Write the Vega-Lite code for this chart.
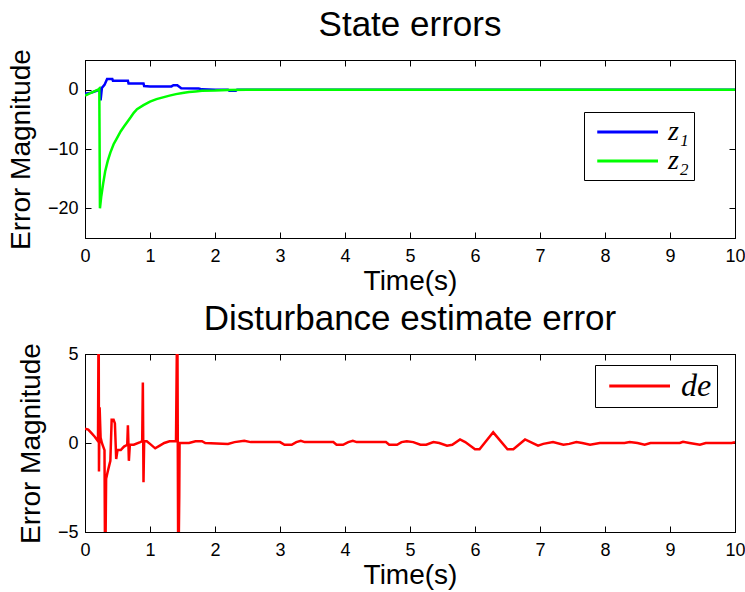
{
  "$schema": "https://vega.github.io/schema/vega-lite/v6.json",
  "background": "white",
  "padding": {"left": 6, "top": 7, "right": 0, "bottom": 0},
  "bounds": "flush",
  "spacing": 116,
  "config": {
    "view": {"stroke": "black", "strokeWidth": 1},
    "axis": {
      "grid": false,
      "domainColor": "black",
      "tickColor": "black",
      "labelColor": "black",
      "titleColor": "black",
      "labelFont": "Liberation Sans",
      "titleFont": "Liberation Sans",
      "labelFontSize": 18,
      "titleFontSize": 28,
      "titleFontWeight": "normal",
      "tickSize": -6,
      "labelFlush": false,
      "labelOverlap": false
    },
    "axisX": {"labelPadding": 15, "titlePadding": 2},
    "axisY": {"labelPadding": 13, "titlePadding": 12},
    "title": {"font": "Liberation Sans", "fontSize": 35, "fontWeight": "normal", "color": "black", "anchor": "middle"},
    "legend": {
      "orient": "none",
      "strokeColor": "black",
      "fillColor": "white",
      "padding": 5,
      "symbolType": "M-0.5,0L4,0",
      "symbolSize": 729,
      "symbolStrokeWidth": 3,
      "labelFont": "Liberation Serif",
      "labelFontStyle": "italic",
      "labelFontSize": 28,
      "labelColor": "black",
      "labelOffset": 49,
      "rowPadding": 0,
      "title": null
    }
  },
  "datasets": {
    "states": [
      {"series": "z₁", "t": 0, "v": -0.7},
      {"series": "z₁", "t": 0.1, "v": -0.5},
      {"series": "z₁", "t": 0.2, "v": -0.1},
      {"series": "z₁", "t": 0.23, "v": 0.1},
      {"series": "z₁", "t": 0.24, "v": -1.8},
      {"series": "z₁", "t": 0.26, "v": 0.3},
      {"series": "z₁", "t": 0.3, "v": 0.8},
      {"series": "z₁", "t": 0.34, "v": 1.8},
      {"series": "z₁", "t": 0.42, "v": 1.8},
      {"series": "z₁", "t": 0.43, "v": 1.5},
      {"series": "z₁", "t": 0.66, "v": 1.5},
      {"series": "z₁", "t": 0.67, "v": 1.05},
      {"series": "z₁", "t": 0.9, "v": 1.05},
      {"series": "z₁", "t": 0.91, "v": 0.6},
      {"series": "z₁", "t": 1.0, "v": 0.55},
      {"series": "z₁", "t": 1.33, "v": 0.55},
      {"series": "z₁", "t": 1.36, "v": 0.75},
      {"series": "z₁", "t": 1.42, "v": 0.75},
      {"series": "z₁", "t": 1.48, "v": 0.25},
      {"series": "z₁", "t": 1.75, "v": 0.2},
      {"series": "z₁", "t": 1.8, "v": 0.05},
      {"series": "z₁", "t": 2.0, "v": 0.0},
      {"series": "z₁", "t": 2.2, "v": 0.0},
      {"series": "z₁", "t": 2.22, "v": -0.2},
      {"series": "z₁", "t": 2.32, "v": -0.2},
      {"series": "z₁", "t": 2.34, "v": 0.0},
      {"series": "z₁", "t": 10, "v": 0.0},
      {"series": "z₂", "t": 0, "v": -1.0},
      {"series": "z₂", "t": 0.1, "v": -0.5},
      {"series": "z₂", "t": 0.2, "v": 0.0},
      {"series": "z₂", "t": 0.22, "v": 0.2},
      {"series": "z₂", "t": 0.23, "v": -20},
      {"series": "z₂", "t": 0.25, "v": -18},
      {"series": "z₂", "t": 0.28, "v": -15.8},
      {"series": "z₂", "t": 0.31, "v": -13.8},
      {"series": "z₂", "t": 0.35, "v": -12},
      {"series": "z₂", "t": 0.39, "v": -10.6},
      {"series": "z₂", "t": 0.44, "v": -9.2},
      {"series": "z₂", "t": 0.49, "v": -8.2},
      {"series": "z₂", "t": 0.55, "v": -7.0},
      {"series": "z₂", "t": 0.6, "v": -6.2},
      {"series": "z₂", "t": 0.7, "v": -4.7},
      {"series": "z₂", "t": 0.75, "v": -3.9},
      {"series": "z₂", "t": 0.8, "v": -3.3},
      {"series": "z₂", "t": 0.9, "v": -2.6},
      {"series": "z₂", "t": 1.0, "v": -2.0},
      {"series": "z₂", "t": 1.1, "v": -1.6},
      {"series": "z₂", "t": 1.2, "v": -1.3},
      {"series": "z₂", "t": 1.3, "v": -1.0},
      {"series": "z₂", "t": 1.4, "v": -0.75},
      {"series": "z₂", "t": 1.5, "v": -0.55},
      {"series": "z₂", "t": 1.6, "v": -0.4},
      {"series": "z₂", "t": 1.7, "v": -0.3},
      {"series": "z₂", "t": 1.8, "v": -0.2},
      {"series": "z₂", "t": 2.0, "v": -0.15},
      {"series": "z₂", "t": 2.2, "v": -0.05},
      {"series": "z₂", "t": 2.5, "v": 0.0},
      {"series": "z₂", "t": 10, "v": 0.0}
    ],
    "dist": [
      {"series": "de", "t": 0, "v": 0.8},
      {"series": "de", "t": 0.05, "v": 0.75},
      {"series": "de", "t": 0.1, "v": 0.55},
      {"series": "de", "t": 0.15, "v": 0.35},
      {"series": "de", "t": 0.2, "v": 0.1},
      {"series": "de", "t": 0.21, "v": 8},
      {"series": "de", "t": 0.215, "v": -1.6},
      {"series": "de", "t": 0.225, "v": 2.0},
      {"series": "de", "t": 0.24, "v": 0.3},
      {"series": "de", "t": 0.26, "v": 0.0},
      {"series": "de", "t": 0.28, "v": -0.2},
      {"series": "de", "t": 0.3, "v": -0.4},
      {"series": "de", "t": 0.31, "v": -8},
      {"series": "de", "t": 0.325, "v": -2.0},
      {"series": "de", "t": 0.35, "v": -1.6},
      {"series": "de", "t": 0.37, "v": -1.3},
      {"series": "de", "t": 0.39, "v": -1.0},
      {"series": "de", "t": 0.41, "v": 1.3},
      {"series": "de", "t": 0.44, "v": 1.3},
      {"series": "de", "t": 0.46, "v": 1.1},
      {"series": "de", "t": 0.48, "v": -0.9},
      {"series": "de", "t": 0.5, "v": -0.4},
      {"series": "de", "t": 0.55, "v": -0.4},
      {"series": "de", "t": 0.6, "v": -0.2},
      {"series": "de", "t": 0.65, "v": -0.1},
      {"series": "de", "t": 0.66, "v": 1.0},
      {"series": "de", "t": 0.675, "v": -1.0},
      {"series": "de", "t": 0.69, "v": -0.1},
      {"series": "de", "t": 0.75, "v": -0.1},
      {"series": "de", "t": 0.85, "v": 0.05},
      {"series": "de", "t": 0.88, "v": 0.1},
      {"series": "de", "t": 0.89, "v": 3.4},
      {"series": "de", "t": 0.9, "v": -2.2},
      {"series": "de", "t": 0.91, "v": 0.1},
      {"series": "de", "t": 0.95, "v": 0.1},
      {"series": "de", "t": 1.0, "v": -0.05},
      {"series": "de", "t": 1.08, "v": -0.3},
      {"series": "de", "t": 1.15, "v": -0.15},
      {"series": "de", "t": 1.22, "v": 0.0},
      {"series": "de", "t": 1.3, "v": 0.1},
      {"series": "de", "t": 1.4, "v": 0.1},
      {"series": "de", "t": 1.42, "v": 8},
      {"series": "de", "t": 1.435, "v": -8},
      {"series": "de", "t": 1.45, "v": -3.0},
      {"series": "de", "t": 1.455, "v": 0.0},
      {"series": "de", "t": 1.6, "v": 0.0},
      {"series": "de", "t": 1.7, "v": 0.1},
      {"series": "de", "t": 1.8, "v": 0.1},
      {"series": "de", "t": 1.85, "v": 0.0},
      {"series": "de", "t": 2.2, "v": -0.05},
      {"series": "de", "t": 2.3, "v": 0.05},
      {"series": "de", "t": 2.45, "v": 0.12},
      {"series": "de", "t": 2.55, "v": 0.05},
      {"series": "de", "t": 3.0, "v": 0.05},
      {"series": "de", "t": 3.07, "v": -0.1},
      {"series": "de", "t": 3.18, "v": -0.1},
      {"series": "de", "t": 3.25, "v": 0.05},
      {"series": "de", "t": 3.32, "v": 0.12},
      {"series": "de", "t": 3.38, "v": 0.05},
      {"series": "de", "t": 3.82, "v": 0.05},
      {"series": "de", "t": 3.87, "v": -0.1},
      {"series": "de", "t": 3.97, "v": -0.1},
      {"series": "de", "t": 4.05, "v": 0.05},
      {"series": "de", "t": 4.12, "v": 0.12},
      {"series": "de", "t": 4.18, "v": 0.05},
      {"series": "de", "t": 4.63, "v": 0.05},
      {"series": "de", "t": 4.68, "v": -0.1},
      {"series": "de", "t": 4.8, "v": -0.1},
      {"series": "de", "t": 4.87, "v": 0.05},
      {"series": "de", "t": 4.95, "v": 0.1},
      {"series": "de", "t": 5.05, "v": 0.05},
      {"series": "de", "t": 5.16, "v": -0.1},
      {"series": "de", "t": 5.25, "v": -0.1},
      {"series": "de", "t": 5.36, "v": 0.05},
      {"series": "de", "t": 5.45, "v": 0.0},
      {"series": "de", "t": 5.57, "v": -0.15},
      {"series": "de", "t": 5.65, "v": -0.1},
      {"series": "de", "t": 5.77, "v": 0.2},
      {"series": "de", "t": 5.85, "v": 0.05},
      {"series": "de", "t": 6.0, "v": -0.35},
      {"series": "de", "t": 6.07, "v": -0.35},
      {"series": "de", "t": 6.28, "v": 0.6},
      {"series": "de", "t": 6.5, "v": -0.35},
      {"series": "de", "t": 6.59, "v": -0.35},
      {"series": "de", "t": 6.77, "v": 0.2},
      {"series": "de", "t": 6.97, "v": -0.15},
      {"series": "de", "t": 7.05, "v": -0.05},
      {"series": "de", "t": 7.2, "v": 0.05},
      {"series": "de", "t": 7.36, "v": -0.1},
      {"series": "de", "t": 7.45, "v": -0.05},
      {"series": "de", "t": 7.56, "v": 0.05},
      {"series": "de", "t": 7.65, "v": 0.0},
      {"series": "de", "t": 7.77, "v": -0.1},
      {"series": "de", "t": 7.92, "v": 0.0},
      {"series": "de", "t": 8.3, "v": 0.0},
      {"series": "de", "t": 8.38, "v": 0.05},
      {"series": "de", "t": 8.5, "v": 0.0},
      {"series": "de", "t": 8.61, "v": -0.1},
      {"series": "de", "t": 8.7, "v": 0.0},
      {"series": "de", "t": 9.15, "v": 0.0},
      {"series": "de", "t": 9.2, "v": 0.07},
      {"series": "de", "t": 9.3, "v": 0.0},
      {"series": "de", "t": 9.46, "v": -0.1},
      {"series": "de", "t": 9.55, "v": 0.0},
      {"series": "de", "t": 9.95, "v": 0.0},
      {"series": "de", "t": 10, "v": 0.05}
    ]
  },
  "vconcat": [
    {
      "width": 650,
      "height": 178,
      "title": {"text": "State errors", "offset": 6},
      "data": {"name": "states"},
      "layer": [
        {
          "mark": {"type": "line", "strokeWidth": 2.5, "clip": true},
          "encoding": {
            "x": {"field": "t", "type": "quantitative", "scale": {"domain": [0, 10], "nice": false}, "axis": {"title": "Time(s)", "values": [0, 1, 2, 3, 4, 5, 6, 7, 8, 9, 10]}},
            "y": {"field": "v", "type": "quantitative", "scale": {"domain": [-25, 5], "nice": false, "zero": false}, "axis": {"title": "Error Magnitude", "values": [-20, -10, 0]}},
            "color": {"field": "series", "type": "nominal", "scale": {"domain": ["z₁", "z₂"], "range": ["#0000ff", "#00ff00"]}, "legend": {"legendX": 499, "legendY": 52}}
          }
        },
        {
          "mark": {"type": "point", "opacity": 0, "clip": true},
          "encoding": {
            "x": {"field": "t", "type": "quantitative", "axis": {"orient": "top", "title": null, "labels": false, "values": [0, 1, 2, 3, 4, 5, 6, 7, 8, 9, 10]}},
            "y": {"field": "v", "type": "quantitative", "axis": {"orient": "right", "title": null, "labels": false, "values": [-20, -10, 0]}}
          }
        }
      ],
      "resolve": {"axis": {"x": "independent", "y": "independent"}}
    },
    {
      "width": 650,
      "height": 178,
      "title": {"text": "Disturbance estimate error", "offset": 6},
      "data": {"name": "dist"},
      "layer": [
        {
          "mark": {"type": "line", "strokeWidth": 2.5, "clip": true},
          "encoding": {
            "x": {"field": "t", "type": "quantitative", "scale": {"domain": [0, 10], "nice": false}, "axis": {"title": "Time(s)", "values": [0, 1, 2, 3, 4, 5, 6, 7, 8, 9, 10]}},
            "y": {"field": "v", "type": "quantitative", "scale": {"domain": [-5, 5], "nice": false}, "axis": {"title": "Error Magnitude", "values": [-5, 0, 5]}},
            "color": {"field": "series", "type": "nominal", "scale": {"domain": ["de"], "range": ["#ff0000"]}, "legend": {"legendX": 510, "legendY": 11, "labelFontSize": 32}}
          }
        },
        {
          "transform": [{"filter": "datum.v >= -5 && datum.v <= 5"}],
          "mark": {"type": "point", "opacity": 0, "clip": true},
          "encoding": {
            "x": {"field": "t", "type": "quantitative", "axis": {"orient": "top", "title": null, "labels": false, "values": [0, 1, 2, 3, 4, 5, 6, 7, 8, 9, 10]}},
            "y": {"field": "v", "type": "quantitative", "axis": {"orient": "right", "title": null, "labels": false, "values": [-5, 0, 5]}}
          }
        }
      ],
      "resolve": {"axis": {"x": "independent", "y": "independent"}}
    }
  ],
  "resolve": {"scale": {"color": "independent"}}
}
